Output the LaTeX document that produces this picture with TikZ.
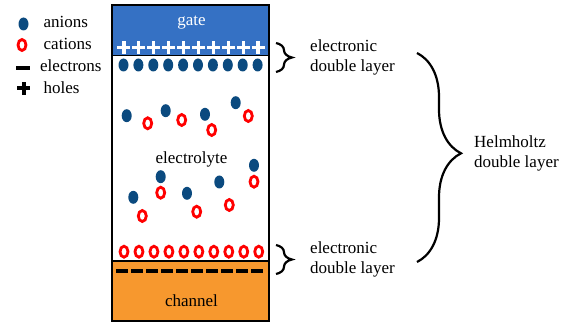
\documentclass[tikz,border=0pt]{standalone}
\usepackage{fontspec}
\setmainfont{Liberation Serif}
\usetikzlibrary{positioning,shapes.geometric,decorations.pathreplacing}
\definecolor{gateblue}{HTML}{3571C4}
\definecolor{chanorange}{HTML}{F7982E}
\definecolor{anionblue}{HTML}{0B4A7F}
\definecolor{cationred}{HTML}{FF0000}

\begin{document}
\begin{tikzpicture}[x=1pt,y=-1pt,
  txt/.style={font=\fontsize{17}{20}\selectfont,inner sep=0pt,align=left},
  layer/.style={draw=black,line width=1.6pt,minimum width=157,inner sep=0pt,outer sep=0pt},
  anion/.style={ellipse,fill=anionblue,inner sep=0pt,minimum width=10,minimum height=13},
  cation/.style={ellipse,draw=cationred,line width=2.8pt,inner sep=0pt,minimum width=8,minimum height=11},
  sign/.style={inner sep=0pt,minimum width=12.5,minimum height=12},
  bar/.style={line width=3.6pt},
  brc/.style={decorate,decoration={brace,amplitude=#1},line width=2.2pt}]
  \useasboundingbox (0,0) rectangle (567,323);
  % legend
  \node[anion] (lan) at (23.5,24) {};
  \node[cation] (lcat) at (22,45) {};
  \node[sign,minimum width=13] (lel) at (23,68) {};
  \draw[bar,line width=4.5pt] (lel.west)--(lel.east);
  \node[sign,minimum width=12,minimum height=12] (lho) at (23.5,88.5) {};
  \draw[bar,line width=4pt] (lho.west)--(lho.east) (lho.north)--(lho.south);
  \node[txt,anchor=base west] (lantxt) at (43.5,27.5) {anions};
  \node[txt,anchor=base west] (lcattxt) at (43.5,49.5) {cations};
  \node[txt,anchor=base west] (leltxt) at (40,72) {electrons};
  \node[txt,anchor=base west] (lhotxt) at (43.5,94) {holes};
  % stack
  \node[layer,fill=gateblue,minimum height=50.5,anchor=north west] (gate) at (112,5) {};
  \node[layer,fill=white,minimum height=205.5,below=0pt of gate] (elyte) {};
  \node[layer,fill=chanorange,minimum height=60,below=0pt of elyte] (chan) {};
  \node[txt,text=white,anchor=base] (gatetxt) at (191.5,26) {gate};
  \node[txt,anchor=base] (elytetxt) at (191.5,164) {electrolyte};
  \node[txt,anchor=base] (chantxt) at (191.5,306) {channel};
  % charged rows
  \foreach \i in {0,...,9} {
    \node[sign] (h\i) at (123.7+14.95*\i,47.5) {};
    \draw[bar,white] (h\i.west)--(h\i.east) (h\i.north)--(h\i.south);
    \node[anion] (a\i) at (123.5+14.9*\i,65) {};
    \node[cation] (c\i) at (124+14.97*\i,251.7) {};
    \node[sign,minimum width=11.5] (e\i) at (122.3+15*\i,270.8) {};
    \draw[bar,line width=4.6pt] (e\i.west)--(e\i.east);
  }
  % free ions
  \foreach \px/\py [count=\k] in {126.7/115.7,165.7/110.7,205/114.3,235.7/102.7,254/165.3,
      160.7/176.7,219.3/182,133.3/197.3,187/193.3}
    \node[anion] (fa\k) at (\px,\py) {};
  \foreach \px/\py [count=\k] in {147.7/123.3,181.7/120,211.7/130,248.3/116,254/181.7,
      160.7/192.7,229.3/205,142.3/216,196.7/211.7}
    \node[cation] (fc\k) at (\px,\py) {};
  % braces
  \coordinate (b1s) at (276,43);
  \coordinate (b1e) at (276,72);
  \coordinate (b1m) at (276,57.5);
  \draw[brc=16] (b1s)--(b1e);
  \node[txt,right=34pt of b1m] (edl1) {electronic\\double layer};
  \coordinate (b2s) at (276,245);
  \coordinate (b2e) at (276,274);
  \coordinate (b2m) at (276,259.5);
  \draw[brc=16] (b2s)--(b2e);
  \node[txt,right=34pt of b2m] (edl2) {electronic\\double layer};
  \coordinate (b3s) at (417,53);
  \coordinate (b3e) at (417,262);
  \coordinate (b3m) at (417,153);
  \draw[brc=44,decoration={aspect=0.48}] (b3s)--(b3e);
  \node[txt,right=57pt of b3m] (hdl) {Helmholtz\\double layer};
\end{tikzpicture}
\end{document}
